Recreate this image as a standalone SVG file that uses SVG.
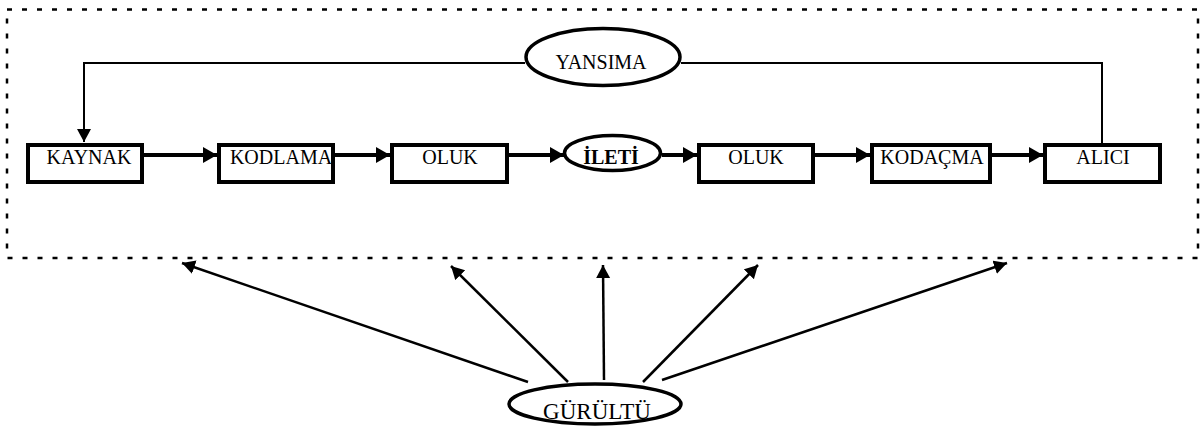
<svg xmlns="http://www.w3.org/2000/svg" width="1204" height="427" viewBox="0 0 1204 427">
  <style>
    .box { fill: #fff; stroke: #000; stroke-width: 4; }
    .oval { fill: #fff; stroke: #000; stroke-width: 3.5; }
    text { font-family: 'Liberation Serif', 'DejaVu Serif', serif; font-size: 20px; fill: #000; text-anchor: middle; }
    .bold { font-weight: bold; }
    .big { font-size: 23px; }
    .flow { stroke: #000; stroke-width: 4; fill: none; }
    .thin { stroke: #000; stroke-width: 2; fill: none; }
    .noise { stroke: #000; stroke-width: 2.5; fill: none; }
    .frame { fill: none; stroke: #000; stroke-width: 2.5; stroke-dasharray: 5 10; }
  </style>
  <defs>
    <marker id="headBig" markerUnits="userSpaceOnUse" markerWidth="16" markerHeight="18" refX="14" refY="8" orient="auto">
      <path d="M0,0 L14,8 L0,16 Z" fill="#000"/>
    </marker>
    <marker id="headSmall" markerUnits="userSpaceOnUse" markerWidth="15" markerHeight="15" refX="13" refY="7" orient="auto">
      <path d="M0,0 L13,7 L0,14 Z" fill="#000"/>
    </marker>
  </defs>

  <!-- environment boundary -->
  <rect id="frame" class="frame" x="7" y="9.5" width="1191" height="248.5"/>

  <!-- connectors -->
  <g id="connectors">
    <!-- main chain -->
    <line class="flow" x1="144" y1="155" x2="217" y2="155" marker-end="url(#headBig)"/>
    <line class="flow" x1="335" y1="155" x2="390" y2="155" marker-end="url(#headBig)"/>
    <line class="flow" x1="509" y1="155" x2="564" y2="155" marker-end="url(#headBig)"/>
    <line class="flow" x1="662" y1="155" x2="697" y2="155" marker-end="url(#headBig)"/>
    <line class="flow" x1="815" y1="155" x2="870" y2="155" marker-end="url(#headBig)"/>
    <line class="flow" x1="992" y1="155" x2="1043" y2="155" marker-end="url(#headBig)"/>
    <!-- feedback loop -->
    <polyline class="thin" points="1102,143 1102,63 681,63"/>
    <polyline class="thin" points="525,63 84,63 84,142" marker-end="url(#headSmall)"/>
    <!-- noise influences -->
    <line class="noise" x1="528" y1="382" x2="182" y2="263" marker-end="url(#headSmall)"/>
    <line class="noise" x1="568" y1="382" x2="451" y2="266" marker-end="url(#headSmall)"/>
    <line class="noise" x1="604" y1="380" x2="603" y2="265" marker-end="url(#headSmall)"/>
    <line class="noise" x1="643" y1="382" x2="758" y2="265" marker-end="url(#headSmall)"/>
    <line class="noise" x1="662" y1="380" x2="1007" y2="263" marker-end="url(#headSmall)"/>
  </g>

  <g id="kaynak">
    <rect class="box" x="28" y="145" width="114" height="37"/>
    <text x="89" y="164">KAYNAK</text>
  </g>
  <g id="kodlama">
    <rect class="box" x="219" y="145" width="114" height="37"/>
    <text x="281" y="164">KODLAMA</text>
  </g>
  <g id="oluk1">
    <rect class="box" x="392" y="145" width="115" height="37"/>
    <text x="450" y="164">OLUK</text>
  </g>
  <g id="ileti">
    <ellipse class="oval" cx="612.5" cy="153" rx="48" ry="17.5"/>
    <text class="bold" x="611" y="164">İLETİ</text>
  </g>
  <g id="oluk2">
    <rect class="box" x="699" y="145" width="114" height="37"/>
    <text x="756" y="164">OLUK</text>
  </g>
  <g id="kodacma">
    <rect class="box" x="872" y="145" width="118" height="37"/>
    <text x="932" y="164">KODAÇMA</text>
  </g>
  <g id="alici">
    <rect class="box" x="1045" y="145" width="115" height="37"/>
    <text x="1103" y="164">ALICI</text>
  </g>
  <g id="yansima">
    <ellipse class="oval" cx="603" cy="57" rx="77" ry="28.5"/>
    <text x="601" y="69">YANSIMA</text>
  </g>
  <g id="gurultu">
    <ellipse class="oval" cx="595" cy="404" rx="86" ry="20"/>
    <text class="big" x="597" y="419">GÜRÜLTÜ</text>
  </g>
</svg>
